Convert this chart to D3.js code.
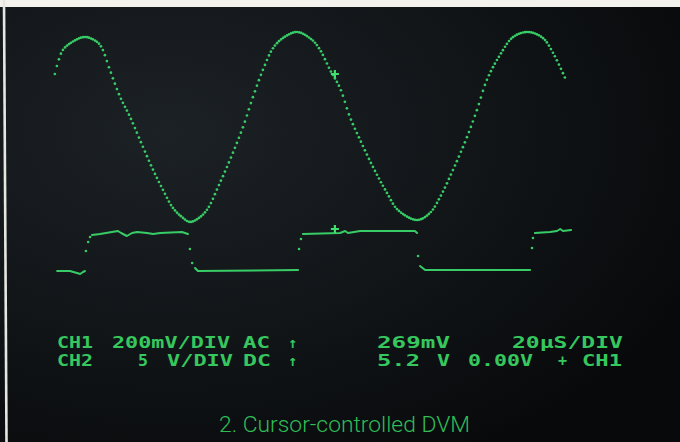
<!DOCTYPE html>
<html>
<head>
<meta charset="utf-8">
<script src="https://cdn.jsdelivr.net/npm/d3@7"></script>
<style>
  html, body { margin: 0; padding: 0; background: #0c0e10; }
  svg { display: block; }
</style>
</head>
<body>
<div id="scope"></div>
<script>
// CH1 sine trace (time in µs, value in mV)
const ch1Time = [10.9, 11.9, 13.4, 16.3, 20.3, 24.1, 25.6, 28.1, 31.3, 34.4, 37.5, 41.6, 44.7, 47.8, 50.6, 53.1,
  56.3, 58.8, 61.9, 65.6, 69.7, 72.8, 75.9, 79.1, 82.2, 86.6, 91.3, 93.8, 96.9, 100, 103.1, 106.3, 110.3,
  114.7, 118.1, 124.1, 128.1, 131.3, 135.3, 139.7, 142.8, 145.9, 150, 154.1, 158.8, 163.4, 166.6, 170.9];
const ch1Volts = [212, 260, 308, 340, 360, 340, 316, 228, 120, 40, -52, -172, -252, -324, -360, -380,
  -360, -324, -240, -132, 0, 120, 228, 316, 356, 380, 348, 308, 228, 156, 40, -52, -160,
  -264, -332, -372, -344, -280, -172, -40, 68, 188, 288, 360, 380, 356, 296, 180];

// CH2 square wave level runs (time in µs, volts)
const ch2Runs = [
  [[11.6, 1.4], [15.6, 1.4], [17.8, 1.2], [18.8, 1.1], [19.7, 1.3], [20.3, 1.4]],
  [[22.5, 5.0], [25, 5.1], [30.6, 5.4], [31.6, 5.2], [33.4, 4.9], [35, 5.2], [36.6, 5.3], [39.7, 5.2],
   [41.6, 5.1], [43.8, 5.2], [50.6, 5.3], [52.5, 5.1]],
  [[54.7, 1.7], [55.6, 1.4], [86.9, 1.5]],
  [[88.4, 5.1], [100, 5.2], [101.6, 5.4], [102.5, 5.2], [106.3, 5.4], [123.4, 5.4], [124.1, 5.2]],
  [[125, 1.9], [126.6, 1.5], [159.4, 1.5]],
  [[160.9, 5.2], [165.6, 5.3], [167.8, 5.4], [168.8, 5.6], [169.7, 5.4], [172.2, 5.5]]
];
// sparse dots on the transitions
const ch2EdgeTime = [20.6, 21.3, 21.9, 53.1, 53.8, 87.2, 87.8, 124.4, 160, 160.3];
const ch2EdgeVolts = [3.4, 4.3, 4.8, 3.6, 2.2, 3.6, 4.6, 2.9, 3.7, 4.7];

// cursor position and its readings on each trace
const cursorTime = [98.4];
const cursorCh1 = [212];
const cursorCh2 = [5.6];

// readout text
const readRow1 = ["CH1", "200mV/DIV", "AC", "↑", "269mV", "20µS/DIV"];
const readRow2 = ["CH2", "5", "V/DIV", "DC", "↑", "5.2", "V", "0.00V", "+", "CH1"];
const caption = "2. Cursor-controlled DVM";

const width = 680;
const height = 442;

const svg = d3.select("#scope")
    .append("svg")
    .attr("width", width)
    .attr("height", height);

// screen background
const defs = svg.append("defs");
const grad = defs.append("radialGradient")
    .attr("id", "screen")
    .attr("cx", "25%").attr("cy", "30%").attr("r", "85%");
grad.append("stop").attr("offset", "0%").attr("stop-color", "#1c2125");
grad.append("stop").attr("offset", "55%").attr("stop-color", "#111518");
grad.append("stop").attr("offset", "100%").attr("stop-color", "#08090b");

svg.append("rect")
    .attr("width", width)
    .attr("height", height)
    .attr("fill", "url(#screen)");

// paper edge at the top and left
svg.append("rect")
    .attr("width", width)
    .attr("height", 7)
    .attr("fill", "#f3f2ec");
svg.append("line")
    .attr("x1", 4).attr("y1", 0)
    .attr("x2", 6.5).attr("y2", height)
    .attr("stroke", "#e6e6e2")
    .attr("stroke-width", 2.6);

// scales: 20µs/div, 64px per div
const x = d3.scaleLinear()
    .domain([0, 200])
    .range([20, 660]);
// CH1 200mV/div, 50px per div
const y1 = d3.scaleLinear()
    .domain([-800, 800])
    .range([327, -73]);
// CH2 5V/div
const y2 = d3.scaleLinear()
    .domain([0, 5])
    .range([285, 235]);

const green = "#38cc66";

// CH1: sample the curve at even x steps like the scope's dot display
const ch1Points = ch1Time.map((t, i) => [t, ch1Volts[i]]);
const ch1Line = d3.line()
    .x((d) => x(d[0]))
    .y((d) => y1(d[1]))
    .curve(d3.curveCatmullRom.alpha(0.5));

const guide = svg.append("path")
    .attr("d", ch1Line(ch1Points))
    .attr("fill", "none")
    .attr("stroke", "none");
const node = guide.node();
const total = node.getTotalLength();
const dots = [];
let nextX = x(ch1Time[0]);
for (let l = 0; l <= total; l += 0.25) {
  const p = node.getPointAtLength(l);
  if (p.x >= nextX) {
    dots.push([p.x, p.y]);
    nextX += 2.0;
  }
}

svg.append("g")
    .attr("class", "ch1")
    .selectAll("circle")
    .data(dots)
    .enter()
    .append("circle")
    .attr("cx", (d) => d[0])
    .attr("cy", (d) => d[1])
    .attr("r", 1.35)
    .attr("fill", green);

// CH2 level runs
const ch2Line = d3.line()
    .x((d) => x(d[0]))
    .y((d) => y2(d[1]));

svg.append("g")
    .attr("class", "ch2")
    .selectAll("path")
    .data(ch2Runs)
    .enter()
    .append("path")
    .attr("d", ch2Line)
    .attr("fill", "none")
    .attr("stroke", green)
    .attr("stroke-width", 2)
    .attr("stroke-linejoin", "round")
    .attr("stroke-linecap", "round");

svg.append("g")
    .attr("class", "ch2-edges")
    .selectAll("circle")
    .data(ch2EdgeTime)
    .enter()
    .append("circle")
    .attr("cx", (d) => x(d))
    .attr("cy", (d, i) => y2(ch2EdgeVolts[i]))
    .attr("r", 1.3)
    .attr("fill", green);

// cursor crosses
function cross(cx, cy) {
  svg.append("path")
      .attr("d", `M${cx - 4},${cy}H${cx + 4}M${cx},${cy - 4}V${cy + 4}`)
      .attr("stroke", "#3fe070")
      .attr("stroke-width", 2.2);
}
cross(x(cursorTime[0]), y1(cursorCh1[0]));
cross(x(cursorTime[0]), y2(cursorCh2[0]));

// readout rows
const row1X = [57, 112, 243, 288, 377, 512];
const row1Len = [36, 118, 27, 0, 73, 111];
const row2X = [57, 138, 167, 243, 288, 377, 437, 468, 558, 582];
const row2Len = [36, 10, 66, 28, 0, 43, 13, 65, 0, 40];

function readout(words, xs, lens, baseline) {
  svg.append("g")
      .selectAll("text")
      .data(words)
      .enter()
      .append("text")
      .attr("x", (d, i) => xs[i])
      .attr("y", baseline)
      .attr("textLength", (d, i) => lens[i] || null)
      .attr("lengthAdjust", "spacingAndGlyphs")
      .attr("font-family", "DejaVu Sans Mono, monospace")
      .attr("font-weight", "bold")
      .attr("font-size", 15)
      .attr("fill", "#36c75e")
      .text((d) => d);
}
readout(readRow1, row1X, row1Len, 348);
readout(readRow2, row2X, row2Len, 366);

svg.append("text")
    .attr("x", 219)
    .attr("y", 432)
    .attr("textLength", 251)
    .attr("lengthAdjust", "spacingAndGlyphs")
    .attr("font-family", "Roboto, sans-serif")
    .attr("font-weight", 300)
    .attr("font-size", 22)
    .attr("fill", "#2fbd57")
    .text(caption);
</script>
</body>
</html>
